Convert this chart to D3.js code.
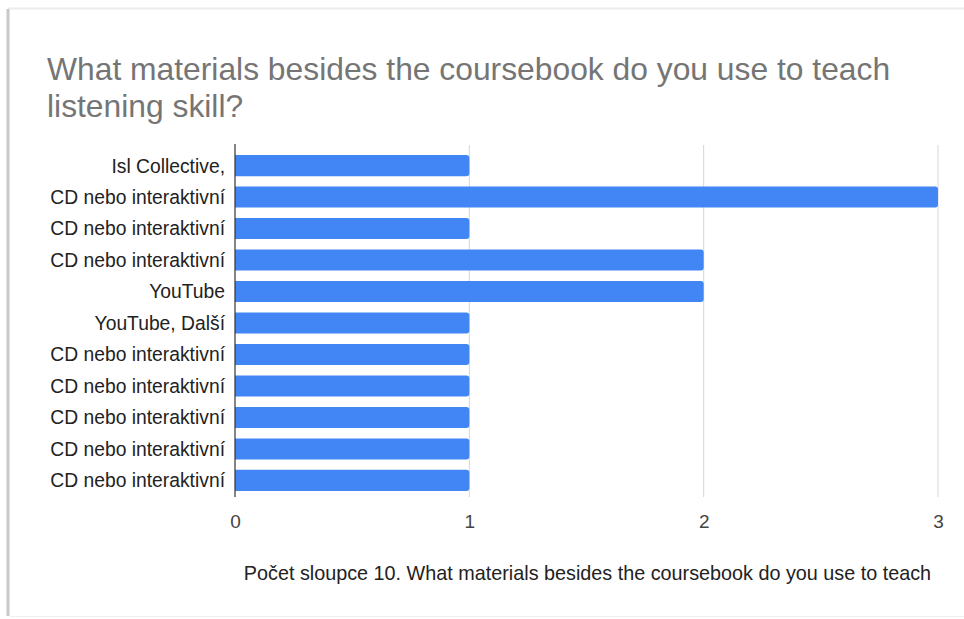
<!DOCTYPE html>
<html>
<head>
<meta charset="utf-8">
<script src="https://cdn.jsdelivr.net/npm/d3@7"></script>
<style>
  html, body { margin: 0; padding: 0; background: #fff; }
  svg { display: block; font-family: "Liberation Sans", Arial, sans-serif; }
</style>
</head>
<body>
<svg id="chart" width="964" height="619"></svg>
<script>
// Survey answers (one row per response) and their counts
const categories = [
  "Isl Collective,",
  "CD nebo interaktivní",
  "CD nebo interaktivní",
  "CD nebo interaktivní",
  "YouTube",
  "YouTube, Další",
  "CD nebo interaktivní",
  "CD nebo interaktivní",
  "CD nebo interaktivní",
  "CD nebo interaktivní",
  "CD nebo interaktivní"
];
const counts = [1, 3, 1, 2, 2, 1, 1, 1, 1, 1, 1];
const xTicks = [0, 1, 2, 3];
const titleLines = [
  "What materials besides the coursebook do you use to teach",
  "listening skill?"
];
const axisTitle = "Počet sloupce 10. What materials besides the coursebook do you use to teach";

const svg = d3.select("#chart");
const W = 964, H = 619;

// Card background with a soft edge
svg.append("rect").attr("x", 0).attr("y", 0).attr("width", W).attr("height", H).attr("fill", "#fff");
svg.append("line").attr("x1", 8).attr("x2", W).attr("y1", 8.5).attr("y2", 8.5)
  .attr("stroke", "#ececec").attr("stroke-width", 2);
svg.append("line").attr("x1", 8).attr("x2", 8).attr("y1", 9).attr("y2", 616)
  .attr("stroke", "#c8c8c8").attr("stroke-width", 3);
svg.append("line").attr("x1", 10).attr("x2", W).attr("y1", 616.5).attr("y2", 616.5)
  .attr("stroke", "#efefef").attr("stroke-width", 1);

// Title
svg.append("g").selectAll("text").data(titleLines).join("text")
  .attr("x", 47)
  .attr("y", (d, i) => 80 + i * 37)
  .attr("font-size", 31.8)
  .attr("fill", "#757575")
  .text(d => d);

const margin = { left: 235, right: 938, top: 150, bottom: 496 };

const x = d3.scaleLinear().domain([0, 3]).range([margin.left, margin.right]);
const y = d3.scaleBand().domain(d3.range(categories.length))
  .range([margin.top, margin.bottom]).paddingInner(0.33).paddingOuter(0.16);

// Vertical gridlines
svg.append("g").selectAll("line").data(xTicks.slice(1)).join("line")
  .attr("x1", d => x(d)).attr("x2", d => x(d))
  .attr("y1", 145).attr("y2", 497)
  .attr("stroke", "#d6d6d6").attr("stroke-width", 1);

// Bars with slightly rounded ends
const r = 3;
svg.append("g").selectAll("path").data(counts).join("path")
  .attr("fill", "#4285f4")
  .attr("d", (d, i) => {
    const x0 = x(0), x1 = x(d), y0 = y(i), h = y.bandwidth();
    return `M${x0},${y0}H${x1 - r}Q${x1},${y0} ${x1},${y0 + r}V${y0 + h - r}Q${x1},${y0 + h} ${x1 - r},${y0 + h}H${x0}Z`;
  });

// Baseline
svg.append("line").attr("x1", x(0)).attr("x2", x(0))
  .attr("y1", 144).attr("y2", 497)
  .attr("stroke", "#333").attr("stroke-width", 1.2);

// Category labels
svg.append("g").selectAll("text").data(categories).join("text")
  .attr("x", 225)
  .attr("y", (d, i) => y(i) + y.bandwidth() / 2)
  .attr("dy", "0.36em")
  .attr("text-anchor", "end")
  .attr("font-size", 19.3)
  .attr("fill", "#222")
  .text(d => d);

// X axis tick labels
const xAxis = d3.axisBottom(x).tickValues(xTicks).tickSize(0).tickPadding(0).tickFormat(d3.format("d"));
const gx = svg.append("g").attr("transform", "translate(0,514)").call(xAxis);
gx.select(".domain").remove();
gx.selectAll("text")
  .attr("font-family", "Liberation Sans, Arial, sans-serif")
  .attr("font-size", 19).attr("fill", "#444").attr("dy", "0.71em");

// Axis title
svg.append("text")
  .attr("x", 587.5).attr("y", 580)
  .attr("text-anchor", "middle")
  .attr("font-size", 19.8)
  .attr("fill", "#222")
  .text(axisTitle);
</script>
</body>
</html>
